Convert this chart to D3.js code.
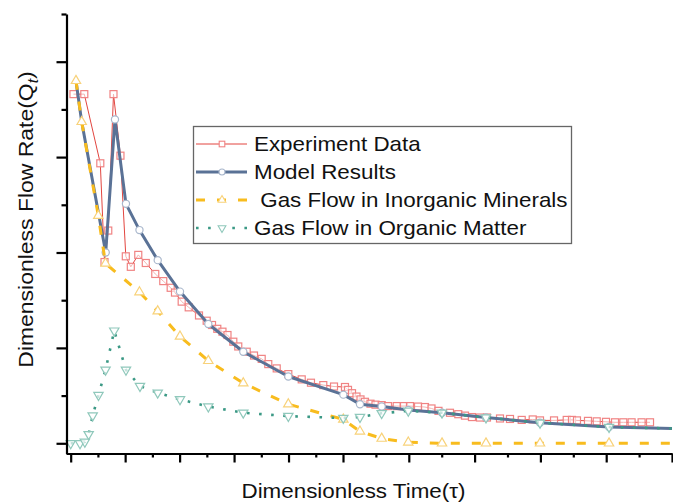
<!DOCTYPE html>
<html><head><meta charset="utf-8">
<script src="https://cdn.jsdelivr.net/npm/d3@7/dist/d3.min.js"></script>
<style>body{margin:0;background:#fff}svg{display:block}text{font-family:"Liberation Sans",Arial,sans-serif;fill:#111}</style>
</head><body>
<svg id="chart" width="673" height="503"></svg>
<script>
// ---------- data ----------
const expX = [0.051,0.25,0.544,0.621,0.69,0.786,0.914,1.012,1.104,1.241,1.379,1.553,1.70,1.836,1.915,2.038,2.167,2.356,2.497,2.595,2.692,2.787,2.879,2.986,3.077,3.232,3.366,3.507,3.628,3.783,3.996,4.242,4.412,4.638,4.835,5.03,5.076,5.137,5.205,5.266,5.334,5.418,5.494,5.588,5.684,5.816,5.927,6.018,6.14,6.246,6.345,6.451,6.626,6.752,6.854,6.96,7.082,7.188,7.386,7.538,7.716,7.883,7.994,8.207,8.40,8.48,8.556,8.723,8.856,8.997,9.134,9.26,9.386,9.538,9.666];
const expY = [0.732,0.732,0.587,0.380,0.446,0.732,0.603,0.392,0.370,0.395,0.378,0.355,0.340,0.326,0.316,0.297,0.285,0.268,0.257,0.248,0.240,0.234,0.227,0.213,0.203,0.192,0.184,0.177,0.166,0.157,0.145,0.134,0.127,0.122,0.119,0.118,0.112,0.105,0.098,0.092,0.087,0.083,0.081,0.080,0.078,0.078,0.078,0.078,0.077,0.076,0.073,0.068,0.064,0.061,0.058,0.055,0.054,0.054,0.052,0.051,0.049,0.050,0.048,0.048,0.049,0.049,0.048,0.047,0.046,0.045,0.044,0.044,0.044,0.044,0.044];

const modelX = [0.097,0.202,0.643,0.813,1.015,1.263,1.598,2.007,2.527,3.169,3.996,5.005,5.258,5.588,5.992,6.505,7.173,7.994,9.043,10];
const modelY = [0.760,0.674,0.400,0.679,0.502,0.447,0.384,0.318,0.250,0.192,0.140,0.102,0.082,0.077,0.070,0.064,0.054,0.043,0.034,0.031];

const inorgX = [0.097,0.202,0.507,0.639,1.263,1.598,2.007,2.527,3.169,3.996,5.005,5.258,5.588,5.992,6.505,7.173,7.994,9.043,10];
const inorgY = [0.760,0.674,0.477,0.377,0.317,0.277,0.224,0.173,0.126,0.082,0.050,0.025,0.010,0.002,0.000,0.000,0.000,0.000,0.000];

const orgX = [0,0.171,0.26,0.33,0.404,0.51,0.64,0.80,1.015,1.272,1.598,2.007,2.527,3.169,3.996,5.005,5.258,5.588,5.992,6.505,7.173,7.994,9.043,10];
const orgY = [0,0,0.003,0.019,0.058,0.101,0.154,0.236,0.154,0.120,0.106,0.092,0.077,0.064,0.057,0.053,0.055,0.063,0.068,0.064,0.054,0.043,0.034,0.031];

const xMajorTicks = [0,1,2,3,4,5,6,7,8,9,10];
const xMinorTicks = [0.5,1.5,2.5,3.5,4.5,5.5,6.5,7.5,8.5,9.5];
const yMajorTicks = [0,0.2,0.4,0.6,0.8];
const yMinorTicks = [0.1,0.3,0.5,0.7,0.9];

const seriesNames = ["Experiment Data","Model Results"," Gas Flow in Inorganic Minerals","Gas Flow in Organic Matter"];
const xTitle = "Dimensionless Time(τ)";
const yTitleMain = "Dimensionless Flow Rate(Q";
const yTitleSub = "t";
const yTitleEnd = ")";

// ---------- layout ----------
const svg = d3.select("#chart");
const x = d3.scaleLinear().domain([-0.086, 5, 10]).range([66, 343, 672]);
const y = d3.scaleLinear().domain([-0.0214, 0.9]).range([453.5, 14]);
const STRETCH = 1.12;

const C = {
  exp: "#e2453f", expM: "#f08383",
  model: "#5a7296", modelM: "#a9b7cc",
  inorg: "#f8bc1e", inorgM: "#f8d27a",
  org: "#3b9985", orgM: "#8fc8bb"
};

const zip = (xs, ys) => xs.map((v, i) => [v, ys[i]]);
const line = d3.line().x(d => x(d[0])).y(d => y(d[1]));

const plot = svg.append("g");

// Experiment
const expData = zip(expX, expY);
plot.append("path").attr("d", line(expData)).attr("fill", "none")
  .attr("stroke", C.exp).attr("stroke-width", 1);
plot.selectAll(".sq").data(expData).enter().append("rect")
  .attr("x", d => x(d[0]) - 3.5).attr("y", d => y(d[1]) - 3.5)
  .attr("width", 7).attr("height", 7)
  .attr("fill", "white").attr("fill-opacity", 0.6)
  .attr("stroke", C.expM).attr("stroke-width", 1.2);

// Model
const modelData = zip(modelX, modelY);
plot.append("path").attr("d", line(modelData)).attr("fill", "none")
  .attr("stroke", C.model).attr("stroke-width", 3).attr("stroke-linejoin", "round");
plot.selectAll(".ci").data(modelData.slice(2, modelData.length - 1)).enter().append("circle")
  .attr("cx", d => x(d[0])).attr("cy", d => y(d[1])).attr("r", 3.6)
  .attr("fill", "white").attr("stroke", C.modelM).attr("stroke-width", 1.2);

// Inorganic
const inorgData = zip(inorgX, inorgY);
plot.append("path").attr("d", line(inorgData)).attr("fill", "none")
  .attr("stroke", C.inorg).attr("stroke-width", 3).attr("stroke-dasharray", "9,12");
const triUp = d3.symbol().type(d3.symbolTriangle).size(38);
plot.selectAll(".tu").data(inorgData.slice(0, inorgData.length - 1)).enter().append("path")
  .attr("d", triUp).attr("transform", d => `translate(${x(d[0])},${y(d[1])})`)
  .attr("fill", "white").attr("stroke", C.inorgM).attr("stroke-width", 1.2);

// Organic
const orgData = zip(orgX, orgY);
plot.append("path").attr("d", line(orgData)).attr("fill", "none")
  .attr("stroke", C.org).attr("stroke-width", 2.6).attr("stroke-dasharray", "2.6,9.5");
plot.selectAll(".td").data(orgData.slice(0, orgData.length - 1)).enter().append("path")
  .attr("d", triUp).attr("transform", d => `translate(${x(d[0])},${y(d[1])}) rotate(180)`)
  .attr("fill", "white").attr("fill-opacity", 0.7).attr("stroke", C.orgM).attr("stroke-width", 1.2);

// ---------- axes ----------
function styleAxis(g) {
  g.selectAll("path.domain").attr("stroke", "#000").attr("stroke-width", 2.2);
  g.selectAll(".tick line").attr("stroke", "#000").attr("stroke-width", 2.2);
  g.selectAll(".tick text").remove();
}
svg.append("g").attr("transform", "translate(0,453.5)")
  .call(d3.axisBottom(x).tickValues(xMinorTicks).tickSize(4).tickSizeOuter(0).tickFormat(""))
  .call(g => g.select(".domain").remove()).call(styleAxis);
svg.append("g").attr("transform", "translate(0,453.5)")
  .call(d3.axisBottom(x).tickValues(xMajorTicks).tickSize(9).tickSizeOuter(0).tickFormat(""))
  .call(styleAxis);
svg.append("g").attr("transform", "translate(66.5,0)")
  .call(d3.axisLeft(y).tickValues(yMinorTicks).tickSize(5).tickSizeOuter(0).tickFormat(""))
  .call(g => g.select(".domain").remove()).call(styleAxis);
svg.append("g").attr("transform", "translate(66.5,0)")
  .call(d3.axisLeft(y).tickValues(yMajorTicks).tickSize(10).tickSizeOuter(0).tickFormat(""))
  .call(styleAxis);

// ---------- titles ----------
svg.append("g").attr("transform", `translate(353.5,498) scale(${STRETCH},1)`)
  .append("text").attr("text-anchor", "middle").attr("font-size", 20).text(xTitle);

const yt = svg.append("g").attr("transform", `translate(33,219.5) rotate(-90) scale(${STRETCH},1)`)
  .append("text").attr("text-anchor", "middle").attr("font-size", 20.5);
yt.append("tspan").text(yTitleMain);
yt.append("tspan").attr("font-style", "italic").attr("font-size", 14).attr("dy", 5).text(yTitleSub);
yt.append("tspan").attr("dy", -5).text(yTitleEnd);

// ---------- legend ----------
const lg = svg.append("g");
lg.append("rect").attr("x", 193.5).attr("y", 126.5).attr("width", 378).attr("height", 117)
  .attr("fill", "white").attr("stroke", "#666").attr("stroke-width", 1.3);
const rowY = [144, 172, 200, 228];
const sx0 = 196, sx1 = 247, sm = 222;
// row 1
lg.append("line").attr("x1", sx0).attr("x2", sx1).attr("y1", rowY[0]).attr("y2", rowY[0])
  .attr("stroke", C.exp).attr("stroke-width", 1);
lg.append("rect").attr("x", sm - 2.8).attr("y", rowY[0] - 2.8).attr("width", 5.6).attr("height", 5.6)
  .attr("fill", "white").attr("stroke", C.expM).attr("stroke-width", 1.1);
// row 2
lg.append("line").attr("x1", sx0).attr("x2", sx1).attr("y1", rowY[1]).attr("y2", rowY[1])
  .attr("stroke", C.model).attr("stroke-width", 3);
lg.append("circle").attr("cx", sm).attr("cy", rowY[1]).attr("r", 3)
  .attr("fill", "white").attr("stroke", C.modelM).attr("stroke-width", 1.1);
// row 3
lg.append("line").attr("x1", sx0).attr("x2", sx1).attr("y1", rowY[2]).attr("y2", rowY[2])
  .attr("stroke", C.inorg).attr("stroke-width", 3).attr("stroke-dasharray", "9,12");
lg.append("path").attr("d", d3.symbol().type(d3.symbolTriangle).size(26))
  .attr("transform", `translate(${sm},${rowY[2]})`)
  .attr("fill", "white").attr("stroke", C.inorgM).attr("stroke-width", 1.1);
// row 4
lg.append("line").attr("x1", sx0).attr("x2", sx1).attr("y1", rowY[3]).attr("y2", rowY[3])
  .attr("stroke", C.org).attr("stroke-width", 2.6).attr("stroke-dasharray", "2.6,9.5");
lg.append("path").attr("d", d3.symbol().type(d3.symbolTriangle).size(26))
  .attr("transform", `translate(${sm},${rowY[3]}) rotate(180)`)
  .attr("fill", "white").attr("stroke", C.orgM).attr("stroke-width", 1.1);

seriesNames.forEach((name, i) => {
  lg.append("g").attr("transform", `translate(254,${rowY[i] + 7}) scale(${STRETCH},1)`)
    .append("text").attr("font-size", 20).style("white-space", "pre").text(name);
});
</script>
</body></html>
